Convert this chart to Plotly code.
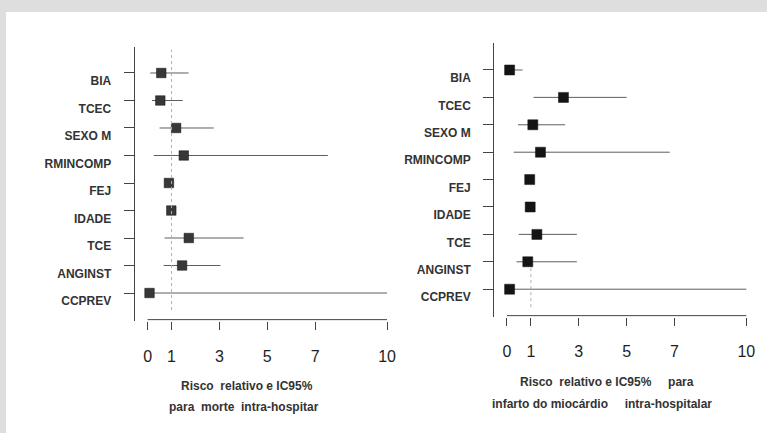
import plotly.graph_objects as go

W, H = 767, 433

categories = ["BIA", "TCEC", "SEXO M", "RMINCOMP", "FEJ", "IDADE", "TCE", "ANGINST", "CCPREV"]

# Left panel: relative risk (IC95%) for in-hospital death
death_rr = [0.57, 0.53, 1.19, 1.51, 0.89, 0.99, 1.72, 1.44, 0.08]
death_lo = [0.11, 0.18, 0.50, 0.26, 0.80, 0.90, 0.71, 0.67, 0.00]
death_hi = [1.71, 1.47, 2.76, 7.53, 0.98, 1.08, 4.01, 3.04, 10.0]

# Right panel: relative risk (IC95%) for in-hospital myocardial infarction
mi_rr = [0.11, 2.36, 1.08, 1.40, 0.95, 0.97, 1.25, 0.87, 0.11]
mi_lo = [0.00, 1.11, 0.46, 0.28, 0.88, 0.90, 0.49, 0.40, 0.00]
mi_hi = [0.65, 5.00, 2.43, 6.80, 1.02, 1.04, 2.92, 2.92, 10.0]

x_ticks = [0, 1, 3, 5, 7, 10]
x_ticktext = ["0", "1", "3", "5", "7", "10"]

left_title = ["Risco\u00a0 relativo e IC95%", "para\u00a0 morte\u00a0 intra-hospitar"]
right_title = ["Risco\u00a0 relativo e IC95%\u00a0\u00a0\u00a0\u00a0 para",
               "infarto do miocárdio\u00a0\u00a0\u00a0\u00a0 intra-hospitalar"]

fig = go.Figure()


def add_panel(rr, lo, hi, xa, ya, mcolor, msize):
    fig.add_trace(go.Scatter(
        x=rr, y=categories, mode="markers", xaxis=xa, yaxis=ya,
        marker=dict(symbol="square", size=msize, color=mcolor,
                    line=dict(width=0.5, color="#111")),
        error_x=dict(type="data", symmetric=False,
                     array=[h - r for h, r in zip(hi, rr)],
                     arrayminus=[r - l for r, l in zip(rr, lo)],
                     width=0, thickness=1, color="#5e5e5e"),
        showlegend=False, hoverinfo="skip"))


add_panel(death_rr, death_lo, death_hi, "x", "y", "#383838", 9.5)
add_panel(mi_rr, mi_lo, mi_hi, "x2", "y2", "#141414", 10)

axis_font = dict(family="Liberation Sans, Arial, sans-serif", size=16, color="#1e1e1e")
lab_font = dict(family="Liberation Sans, Arial, sans-serif", size=12, color="#333333",
                weight="bold")

def xaxis(dom, rng, anchor, standoff):
    return dict(domain=dom, range=rng, anchor=anchor, showgrid=False, zeroline=False,
                showline=False, tickvals=x_ticks, ticktext=x_ticktext, ticks="outside",
                ticklen=8, tickwidth=1, tickcolor="#444", tickfont=axis_font,
                ticklabelstandoff=standoff, fixedrange=True)

def yaxis(dom, rng, anchor):
    return dict(domain=dom, type="category", categoryarray=categories, range=rng,
                anchor=anchor, showgrid=False, zeroline=False, showline=True,
                linecolor="#444", linewidth=1, ticks="outside", ticklen=10, tickwidth=1,
                tickcolor="#444", tickfont=lab_font, ticklabelstandoff=10,
                ticklabelshift=-8, fixedrange=True)

fig.update_layout(
    width=W, height=H, margin=dict(l=0, r=0, t=0, b=0),
    paper_bgcolor="white", plot_bgcolor="rgba(0,0,0,0)",
    xaxis=xaxis([135 / W, 395 / W], [-0.5417, 10.29], "y", 13),
    yaxis=yaxis([1 - 321 / H, 1 - 47 / H], [9.018, -0.945], "x"),
    xaxis2=xaxis([495.5 / W, 755 / W], [-0.533, 10.28], "y2", 12),
    yaxis2=yaxis([1 - 317 / H, 1 - 43 / H], [9.015, -0.985], "x2"),
)

gray = "#dedede"
shapes = [
    # grey frame around the white page
    dict(type="rect", xref="paper", yref="paper", x0=-0.01, x1=1.01, y0=1 - 12 / H, y1=1.01,
         fillcolor=gray, line=dict(width=0), layer="below"),
    dict(type="rect", xref="paper", yref="paper", x0=-0.01, x1=6 / W, y0=-0.01, y1=1.01,
         fillcolor=gray, line=dict(width=0), layer="below"),
    # x-axis lines (only from 0 to 10)
    dict(type="line", xref="x", yref="y domain", x0=0, x1=10, y0=0.005, y1=0.005,
         line=dict(color="#444", width=1)),
    dict(type="line", xref="x2", yref="y2 domain", x0=0, x1=10, y0=0.005, y1=0.005,
         line=dict(color="#444", width=1)),
    # reference line at RR = 1
    dict(type="line", xref="x", yref="y domain", x0=1, x1=1, y0=0.04, y1=0.99,
         line=dict(color="#b0b0b0", width=1, dash="dot")),
    dict(type="line", xref="x2", yref="y2 domain", x0=1, x1=1, y0=0.036, y1=0.19,
         line=dict(color="#b0b0b0", width=1, dash="dot")),
]
fig.update_layout(shapes=shapes)

tfont = dict(family="Liberation Sans, Arial, sans-serif", size=12, color="#333333",
             weight="bold")
ann = []
for txt, px, py in [(left_title[0], 248, 386), (left_title[1], 245, 407),
                    (right_title[0], 609, 382), (right_title[1], 604, 404)]:
    ann.append(dict(text=txt, xref="paper", yref="paper", x=px / W, y=1 - py / H,
                    xanchor="center", yanchor="middle", showarrow=False, font=tfont))
fig.update_layout(annotations=ann)

fig.write_html("out.html", config={"displayModeBar": False},
               post_script="document.body.style.margin='0';")
